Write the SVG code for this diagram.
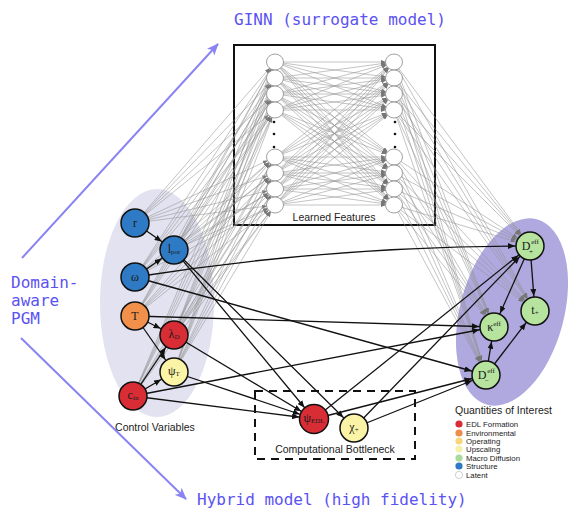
<svg xmlns="http://www.w3.org/2000/svg" width="581" height="521" viewBox="0 0 581 521">
<style>
.gl line{stroke:#939393;stroke-width:0.55;fill:none}
.gn line{marker-end:url(#gh)}
.gq line{marker-end:url(#gq)}
.ed line,.ed path{stroke:#111;stroke-width:1.3;fill:none;marker-end:url(#ah)}
.nd{stroke:#111;stroke-width:1.5}
.lb{font-family:"Liberation Serif",serif;font-size:12px;fill:#1a1a1a;text-anchor:middle}
.sb{font-size:7px}
.nn{fill:#fff;stroke:#888;stroke-width:0.8}
.sans{font-family:"Liberation Sans",Arial,sans-serif;fill:#222}
.mono{font-family:"DejaVu Sans Mono","Liberation Mono",monospace;font-size:16px;fill:#5b52f2}
.leg{font-size:7.8px}
</style>
<defs>
<marker id="ah" markerUnits="userSpaceOnUse" markerWidth="23" markerHeight="6" refX="22" refY="3" orient="auto"><path d="M0,0 L7,3 L0,6 z" fill="#111"/></marker>
<marker id="gh" markerUnits="userSpaceOnUse" markerWidth="14" markerHeight="4" refX="13" refY="2" orient="auto"><path d="M0,0 L5,2 L0,4 z" fill="#777"/></marker>
<marker id="gq" markerUnits="userSpaceOnUse" markerWidth="21" markerHeight="4" refX="20" refY="2" orient="auto"><path d="M0,0 L5,2 L0,4 z" fill="#777"/></marker>
<marker id="pa" markerUnits="userSpaceOnUse" markerWidth="12" markerHeight="10" refX="11" refY="5" orient="auto"><path d="M0,0 L12,5 L0,10 L3,5 z" fill="#8a84f2"/></marker>
</defs>
<rect width="581" height="521" fill="#fff"/>

<!-- background groups -->
<ellipse cx="157" cy="303" rx="57" ry="114" fill="#e2e2f0"/>
<ellipse cx="512" cy="312" rx="52" ry="96" fill="#b0a9df" transform="rotate(15 512 312)"/>

<!-- GINN box -->
<rect x="234" y="45" width="201" height="180" fill="none" stroke="#111" stroke-width="2"/>

<g id="nn-connectors" class="gl">
<g class="gn">
<line x1="135" y1="223" x2="275" y2="62"/><line x1="135" y1="223" x2="275" y2="78"/><line x1="135" y1="223" x2="275" y2="94"/><line x1="135" y1="223" x2="275" y2="110"/><line x1="135" y1="223" x2="275" y2="157"/><line x1="135" y1="223" x2="275" y2="173"/><line x1="135" y1="223" x2="275" y2="189"/><line x1="135" y1="223" x2="275" y2="205"/>
<line x1="174" y1="250" x2="275" y2="62"/><line x1="174" y1="250" x2="275" y2="78"/><line x1="174" y1="250" x2="275" y2="94"/><line x1="174" y1="250" x2="275" y2="110"/><line x1="174" y1="250" x2="275" y2="157"/><line x1="174" y1="250" x2="275" y2="173"/><line x1="174" y1="250" x2="275" y2="189"/><line x1="174" y1="250" x2="275" y2="205"/>
<line x1="135" y1="277" x2="275" y2="62"/><line x1="135" y1="277" x2="275" y2="78"/><line x1="135" y1="277" x2="275" y2="94"/><line x1="135" y1="277" x2="275" y2="110"/><line x1="135" y1="277" x2="275" y2="157"/><line x1="135" y1="277" x2="275" y2="173"/><line x1="135" y1="277" x2="275" y2="189"/><line x1="135" y1="277" x2="275" y2="205"/>
<line x1="135" y1="316" x2="275" y2="62"/><line x1="135" y1="316" x2="275" y2="78"/><line x1="135" y1="316" x2="275" y2="94"/><line x1="135" y1="316" x2="275" y2="110"/><line x1="135" y1="316" x2="275" y2="157"/><line x1="135" y1="316" x2="275" y2="173"/><line x1="135" y1="316" x2="275" y2="189"/><line x1="135" y1="316" x2="275" y2="205"/>
<line x1="174" y1="335" x2="275" y2="62"/><line x1="174" y1="335" x2="275" y2="78"/><line x1="174" y1="335" x2="275" y2="94"/><line x1="174" y1="335" x2="275" y2="110"/><line x1="174" y1="335" x2="275" y2="157"/><line x1="174" y1="335" x2="275" y2="173"/><line x1="174" y1="335" x2="275" y2="189"/><line x1="174" y1="335" x2="275" y2="205"/>
<line x1="174" y1="372" x2="275" y2="62"/><line x1="174" y1="372" x2="275" y2="78"/><line x1="174" y1="372" x2="275" y2="94"/><line x1="174" y1="372" x2="275" y2="110"/><line x1="174" y1="372" x2="275" y2="157"/><line x1="174" y1="372" x2="275" y2="173"/><line x1="174" y1="372" x2="275" y2="189"/><line x1="174" y1="372" x2="275" y2="205"/>
<line x1="133" y1="396" x2="275" y2="62"/><line x1="133" y1="396" x2="275" y2="78"/><line x1="133" y1="396" x2="275" y2="94"/><line x1="133" y1="396" x2="275" y2="110"/><line x1="133" y1="396" x2="275" y2="157"/><line x1="133" y1="396" x2="275" y2="173"/><line x1="133" y1="396" x2="275" y2="189"/><line x1="133" y1="396" x2="275" y2="205"/>
<line x1="275" y1="62" x2="394" y2="62"/><line x1="275" y1="62" x2="394" y2="78"/><line x1="275" y1="62" x2="394" y2="94"/><line x1="275" y1="62" x2="394" y2="110"/><line x1="275" y1="62" x2="394" y2="157"/><line x1="275" y1="62" x2="394" y2="173"/><line x1="275" y1="62" x2="394" y2="189"/><line x1="275" y1="62" x2="394" y2="205"/>
<line x1="275" y1="78" x2="394" y2="62"/><line x1="275" y1="78" x2="394" y2="78"/><line x1="275" y1="78" x2="394" y2="94"/><line x1="275" y1="78" x2="394" y2="110"/><line x1="275" y1="78" x2="394" y2="157"/><line x1="275" y1="78" x2="394" y2="173"/><line x1="275" y1="78" x2="394" y2="189"/><line x1="275" y1="78" x2="394" y2="205"/>
<line x1="275" y1="94" x2="394" y2="62"/><line x1="275" y1="94" x2="394" y2="78"/><line x1="275" y1="94" x2="394" y2="94"/><line x1="275" y1="94" x2="394" y2="110"/><line x1="275" y1="94" x2="394" y2="157"/><line x1="275" y1="94" x2="394" y2="173"/><line x1="275" y1="94" x2="394" y2="189"/><line x1="275" y1="94" x2="394" y2="205"/>
<line x1="275" y1="110" x2="394" y2="62"/><line x1="275" y1="110" x2="394" y2="78"/><line x1="275" y1="110" x2="394" y2="94"/><line x1="275" y1="110" x2="394" y2="110"/><line x1="275" y1="110" x2="394" y2="157"/><line x1="275" y1="110" x2="394" y2="173"/><line x1="275" y1="110" x2="394" y2="189"/><line x1="275" y1="110" x2="394" y2="205"/>
<line x1="275" y1="157" x2="394" y2="62"/><line x1="275" y1="157" x2="394" y2="78"/><line x1="275" y1="157" x2="394" y2="94"/><line x1="275" y1="157" x2="394" y2="110"/><line x1="275" y1="157" x2="394" y2="157"/><line x1="275" y1="157" x2="394" y2="173"/><line x1="275" y1="157" x2="394" y2="189"/><line x1="275" y1="157" x2="394" y2="205"/>
<line x1="275" y1="173" x2="394" y2="62"/><line x1="275" y1="173" x2="394" y2="78"/><line x1="275" y1="173" x2="394" y2="94"/><line x1="275" y1="173" x2="394" y2="110"/><line x1="275" y1="173" x2="394" y2="157"/><line x1="275" y1="173" x2="394" y2="173"/><line x1="275" y1="173" x2="394" y2="189"/><line x1="275" y1="173" x2="394" y2="205"/>
<line x1="275" y1="189" x2="394" y2="62"/><line x1="275" y1="189" x2="394" y2="78"/><line x1="275" y1="189" x2="394" y2="94"/><line x1="275" y1="189" x2="394" y2="110"/><line x1="275" y1="189" x2="394" y2="157"/><line x1="275" y1="189" x2="394" y2="173"/><line x1="275" y1="189" x2="394" y2="189"/><line x1="275" y1="189" x2="394" y2="205"/>
<line x1="275" y1="205" x2="394" y2="62"/><line x1="275" y1="205" x2="394" y2="78"/><line x1="275" y1="205" x2="394" y2="94"/><line x1="275" y1="205" x2="394" y2="110"/><line x1="275" y1="205" x2="394" y2="157"/><line x1="275" y1="205" x2="394" y2="173"/><line x1="275" y1="205" x2="394" y2="189"/><line x1="275" y1="205" x2="394" y2="205"/>
</g>
<g class="gq">
<line x1="394" y1="62" x2="530" y2="246"/><line x1="394" y1="78" x2="530" y2="246"/><line x1="394" y1="94" x2="530" y2="246"/><line x1="394" y1="110" x2="530" y2="246"/><line x1="394" y1="157" x2="530" y2="246"/><line x1="394" y1="173" x2="530" y2="246"/><line x1="394" y1="189" x2="530" y2="246"/><line x1="394" y1="205" x2="530" y2="246"/>
<line x1="394" y1="62" x2="535" y2="311"/><line x1="394" y1="78" x2="535" y2="311"/><line x1="394" y1="94" x2="535" y2="311"/><line x1="394" y1="110" x2="535" y2="311"/><line x1="394" y1="157" x2="535" y2="311"/><line x1="394" y1="173" x2="535" y2="311"/><line x1="394" y1="189" x2="535" y2="311"/><line x1="394" y1="205" x2="535" y2="311"/>
<line x1="394" y1="62" x2="494" y2="327"/><line x1="394" y1="78" x2="494" y2="327"/><line x1="394" y1="94" x2="494" y2="327"/><line x1="394" y1="110" x2="494" y2="327"/><line x1="394" y1="157" x2="494" y2="327"/><line x1="394" y1="173" x2="494" y2="327"/><line x1="394" y1="189" x2="494" y2="327"/><line x1="394" y1="205" x2="494" y2="327"/>
<line x1="394" y1="62" x2="486" y2="375"/><line x1="394" y1="78" x2="486" y2="375"/><line x1="394" y1="94" x2="486" y2="375"/><line x1="394" y1="110" x2="486" y2="375"/><line x1="394" y1="157" x2="486" y2="375"/><line x1="394" y1="173" x2="486" y2="375"/><line x1="394" y1="189" x2="486" y2="375"/><line x1="394" y1="205" x2="486" y2="375"/>
</g>
</g>

<g id="nn-nodes">
<g class="nn">
<ellipse cx="275" cy="62" rx="8.5" ry="8"/><ellipse cx="275" cy="78" rx="8.5" ry="8"/><ellipse cx="275" cy="94" rx="8.5" ry="8"/><ellipse cx="275" cy="110" rx="8.5" ry="8"/><ellipse cx="275" cy="157" rx="8.5" ry="8"/><ellipse cx="275" cy="173" rx="8.5" ry="8"/><ellipse cx="275" cy="189" rx="8.5" ry="8"/><ellipse cx="275" cy="205" rx="8.5" ry="8"/>
<ellipse cx="394" cy="62" rx="8.5" ry="8"/><ellipse cx="394" cy="78" rx="8.5" ry="8"/><ellipse cx="394" cy="94" rx="8.5" ry="8"/><ellipse cx="394" cy="110" rx="8.5" ry="8"/><ellipse cx="394" cy="157" rx="8.5" ry="8"/><ellipse cx="394" cy="173" rx="8.5" ry="8"/><ellipse cx="394" cy="189" rx="8.5" ry="8"/><ellipse cx="394" cy="205" rx="8.5" ry="8"/>
</g>
<g fill="#111">
<circle cx="274" cy="122" r="1.3"/><circle cx="274" cy="134" r="1.3"/><circle cx="274" cy="147" r="1.3"/>
<circle cx="395" cy="122" r="1.3"/><circle cx="395" cy="134" r="1.3"/><circle cx="395" cy="147" r="1.3"/>
</g>
<text class="sans" x="334" y="221" font-size="10.5" text-anchor="middle">Learned Features</text>
</g>

<!-- bottleneck box -->
<rect x="255" y="391" width="160" height="68" fill="none" stroke="#111" stroke-width="2" stroke-dasharray="8,6"/>
<text class="sans" x="335" y="453" font-size="10.5" text-anchor="middle">Computational Bottleneck</text>

<g id="connectors" class="ed">
<line x1="135" y1="223" x2="174" y2="250"/>
<line x1="135" y1="277" x2="174" y2="250"/>
<path d="M135,277 Q330,246 530,246"/>
<line x1="135" y1="277" x2="486" y2="375"/>
<line x1="135" y1="316" x2="494" y2="327"/>
<line x1="135" y1="316" x2="174" y2="335"/>
<line x1="135" y1="316" x2="174" y2="372"/>
<line x1="133" y1="396" x2="174" y2="335"/>
<line x1="133" y1="396" x2="174" y2="372"/>
<line x1="133" y1="396" x2="494" y2="327"/>
<line x1="133" y1="396" x2="314" y2="419"/>
<line x1="174" y1="250" x2="314" y2="419"/>
<line x1="174" y1="250" x2="354" y2="428"/>
<line x1="174" y1="335" x2="314" y2="419"/>
<line x1="174" y1="372" x2="314" y2="419"/>
<line x1="314" y1="419" x2="530" y2="246"/>
<line x1="314" y1="419" x2="486" y2="375"/>
<line x1="354" y1="428" x2="530" y2="246"/>
<line x1="354" y1="428" x2="486" y2="375"/>
<line x1="530" y1="246" x2="494" y2="327"/>
<line x1="530" y1="246" x2="535" y2="311"/>
<line x1="486" y1="375" x2="494" y2="327"/>
<line x1="486" y1="375" x2="535" y2="311"/>
</g>

<g id="node-r"><circle class="nd" cx="135" cy="223" r="14" fill="#2f7ac4"/><text class="lb" x="135" y="227">r</text></g>
<g id="node-lpor"><circle class="nd" cx="174" cy="250" r="14" fill="#2f7ac4"/><text class="lb" x="174" y="253">l<tspan class="sb" dy="1">por</tspan></text></g>
<g id="node-omega"><circle class="nd" cx="135" cy="277" r="14" fill="#2f7ac4"/><text class="lb" x="135" y="281">ω</text></g>
<g id="node-T"><circle class="nd" cx="135" cy="316" r="14" fill="#f1904a"/><text class="lb" x="135" y="320" font-size="13">T</text></g>
<g id="node-lambdaD"><circle class="nd" cx="174" cy="335" r="14" fill="#d92d36"/><text class="lb" x="174" y="338">λ<tspan class="sb" dy="1">D</tspan></text></g>
<g id="node-psiT"><circle class="nd" cx="174" cy="372" r="14" fill="#fbf4a6"/><text class="lb" x="174" y="375">ψ<tspan class="sb" dy="1">T</tspan></text></g>
<g id="node-cin"><circle class="nd" cx="133" cy="396" r="14" fill="#d92d36"/><text class="lb" x="133" y="399">c<tspan class="sb" dy="1">in</tspan></text></g>
<g id="node-psiEDL"><circle class="nd" cx="314" cy="419" r="14.5" fill="#d92d36"/><text class="lb" x="314" y="422">ψ<tspan class="sb" dy="1">EDL</tspan></text></g>
<g id="node-chi"><circle class="nd" cx="354" cy="428" r="14" fill="#fbf4a6"/><text class="lb" x="354" y="431">χ<tspan class="sb" dy="1">+</tspan></text></g>
<g id="node-Dplus"><circle class="nd" cx="530" cy="246" r="14" fill="#b6e49f"/><text class="lb" x="526" y="250">D</text><text class="lb sb" x="535" y="244">eff</text><text class="lb sb" x="531" y="254">+</text></g>
<g id="node-tplus"><circle class="nd" cx="535" cy="311" r="14" fill="#b6e49f"/><text class="lb" x="535" y="314">t<tspan class="sb" dy="1">+</tspan></text></g>
<g id="node-kappa"><circle class="nd" cx="494" cy="327" r="14" fill="#b6e49f"/><text class="lb" x="494" y="331">κ<tspan class="sb" dy="-5">eff</tspan></text></g>
<g id="node-Dminus"><circle class="nd" cx="486" cy="375" r="14" fill="#b6e49f"/><text class="lb" x="482" y="379">D</text><text class="lb sb" x="491" y="373">eff</text><text class="lb sb" x="487" y="383">−</text></g>

<text class="sans" x="155" y="431" font-size="10.5" text-anchor="middle">Control Variables</text>

<g id="legend" class="sans">
<text x="455" y="414" font-size="10.5">Quantities of Interest</text>
<circle cx="459" cy="424" r="3.6" fill="#d92d36"/><text class="leg" x="466" y="427">EDL Formation</text>
<circle cx="459" cy="433" r="3.6" fill="#ec8d4f"/><text class="leg" x="466" y="436">Environmental</text>
<circle cx="459" cy="441" r="3.6" fill="#f6d77c"/><text class="leg" x="466" y="444">Operating</text>
<circle cx="459" cy="449" r="3.6" fill="#f3f1aa"/><text class="leg" x="466" y="452">Upscaling</text>
<circle cx="459" cy="458" r="3.6" fill="#a9d99b"/><text class="leg" x="466" y="461">Macro Diffusion</text>
<circle cx="459" cy="466" r="3.6" fill="#2f7ac4"/><text class="leg" x="466" y="469">Structure</text>
<circle cx="459" cy="475" r="3.6" fill="#fff" stroke="#bbb" stroke-width="0.7"/><text class="leg" x="466" y="478">Latent</text>
</g>

<g id="annotations">
<line x1="22" y1="258" x2="218" y2="44" stroke="#8a84f2" stroke-width="2" marker-end="url(#pa)"/>
<line x1="21" y1="338" x2="186" y2="499" stroke="#8a84f2" stroke-width="2" marker-end="url(#pa)"/>
<text class="mono" x="234" y="25">GINN (surrogate model)</text>
<text class="mono" x="197" y="505">Hybrid model (high fidelity)</text>
<text class="mono" x="11" y="288">Domain-</text>
<text class="mono" x="11" y="306">aware</text>
<text class="mono" x="11" y="324">PGM</text>
</g>
</svg>
